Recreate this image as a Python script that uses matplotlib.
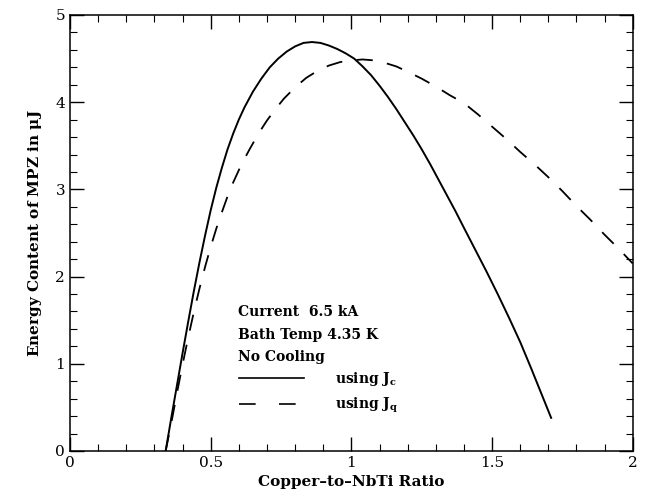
import matplotlib
matplotlib.use('Agg')
import matplotlib.pyplot as plt
from matplotlib.lines import Line2D
from matplotlib.ticker import MultipleLocator

# curves (J_c solid, J_q dashed)
jc_ratio = [0.34, 0.36, 0.38, 0.40, 0.42, 0.44, 0.46, 0.48, 0.50, 0.52, 0.54,
            0.56, 0.58, 0.60, 0.62, 0.65, 0.68, 0.71, 0.74, 0.77, 0.80, 0.83,
            0.86, 0.89, 0.92, 0.95, 0.98, 1.01, 1.04, 1.07, 1.10, 1.13, 1.16,
            1.19, 1.22, 1.25, 1.28, 1.31, 1.34, 1.37, 1.40, 1.44, 1.48, 1.52,
            1.56, 1.60, 1.64, 1.68, 1.71]
jc_energy = [0.0, 0.38, 0.75, 1.12, 1.48, 1.83, 2.16, 2.47, 2.76, 3.02, 3.25,
             3.46, 3.64, 3.80, 3.94, 4.12, 4.27, 4.40, 4.50, 4.58, 4.64, 4.68,
             4.69, 4.68, 4.65, 4.61, 4.56, 4.50, 4.41, 4.31, 4.19, 4.06, 3.92,
             3.77, 3.62, 3.46, 3.29, 3.11, 2.93, 2.75, 2.56, 2.31, 2.06, 1.80,
             1.53, 1.25, 0.94, 0.62, 0.38]

jq_ratio = [0.34, 0.36, 0.38, 0.40, 0.42, 0.44, 0.46, 0.48, 0.50, 0.52, 0.54,
            0.56, 0.58, 0.61, 0.64, 0.67, 0.70, 0.73, 0.76, 0.80, 0.84, 0.88,
            0.92, 0.96, 1.00, 1.04, 1.08, 1.12, 1.16, 1.20, 1.25, 1.30, 1.35,
            1.40, 1.45, 1.50, 1.55, 1.60, 1.65, 1.70, 1.75, 1.80, 1.85, 1.90,
            1.95, 2.00]
jq_energy = [0.0, 0.32, 0.66, 0.99, 1.30, 1.59, 1.86, 2.11, 2.34, 2.55, 2.74,
             2.92, 3.08, 3.29, 3.47, 3.64, 3.79, 3.92, 4.04, 4.17, 4.28, 4.36,
             4.42, 4.46, 4.48, 4.49, 4.48, 4.45, 4.41, 4.35, 4.27, 4.18, 4.08,
             3.99, 3.86, 3.72, 3.58, 3.43, 3.29, 3.14, 2.98, 2.81, 2.65, 2.48,
             2.32, 2.15]

info_lines = ['Current  6.5 kA', 'Bath Temp 4.35 K', 'No Cooling']

plt.rcParams['font.family'] = 'DejaVu Serif'
plt.rcParams['mathtext.fontset'] = 'dejavuserif'

fig = plt.figure(figsize=(6.45, 5.0), dpi=100)
ax = fig.add_axes([0.1085, 0.098, 0.8725, 0.872])

ax.plot(jc_ratio, jc_energy, color='black', lw=1.4)
ax.plot(jq_ratio, jq_energy, color='black', lw=1.3, dashes=(9, 8))

ax.set_xlim(0, 2)
ax.set_ylim(0, 5)
ax.xaxis.set_major_locator(MultipleLocator(0.5))
ax.xaxis.set_minor_locator(MultipleLocator(0.1))
ax.yaxis.set_major_locator(MultipleLocator(1))
ax.yaxis.set_minor_locator(MultipleLocator(0.2))
ax.set_xticks([0, 0.5, 1, 1.5, 2])
ax.set_xticklabels(['0', '0.5', '1', '1.5', '2'])
ax.tick_params(which='both', direction='in', top=True, right=True, labelsize=11)
ax.tick_params(which='major', length=10, width=1)
ax.tick_params(which='minor', length=5, width=0.8)
for s in ax.spines.values():
    s.set_linewidth(1.1)

ax.set_xlabel('Copper\u2013to\u2013NbTi Ratio', fontsize=11, fontweight='bold', labelpad=4)
ax.set_ylabel('Energy Content of MPZ in $\\mathbf{\\mu}$J', fontsize=11, fontweight='bold', labelpad=8)

for i, t in enumerate(info_lines):
    ax.text(0.597, 1.59 - 0.255 * i, t, fontsize=10, fontweight='bold', va='center')

handles = [Line2D([], [], color='black', lw=1.2),
           Line2D([], [], color='black', lw=1.2, dashes=(10, 14))]
ax.legend(handles, ['using $\\mathbf{J_c}$', 'using $\\mathbf{J_q}$'], loc='upper left',
          bbox_to_anchor=(0.3, 0.185), frameon=False, prop={'size': 10, 'weight': 'bold'},
          handlelength=4.7, handletextpad=2.2, labelspacing=0.55,
          borderaxespad=0, borderpad=0)

fig.savefig('out.png', dpi=100)
